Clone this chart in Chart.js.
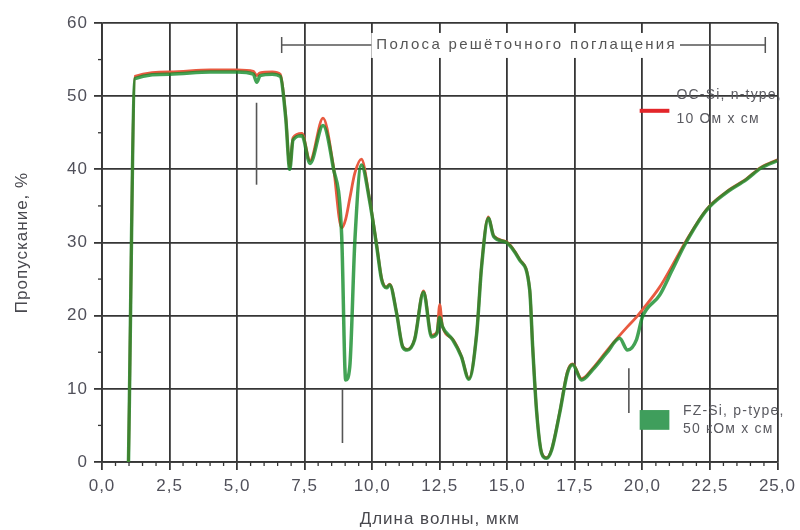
<!DOCTYPE html>
<html>
<head>
<meta charset="utf-8">
<script src="https://cdn.jsdelivr.net/npm/chart.js@4/dist/chart.umd.min.js"></script>
<style>
html,body{margin:0;padding:0;background:#fff;}
#wrap{width:800px;height:530px;}
</style>
</head>
<body>
<div id="wrap"><canvas id="c" width="800" height="530"></canvas></div>
<script>
// ---- data ----
const wavelengths = [0.98,1.22,2.5,4.0,5.0,5.6,5.73,5.85,6.3,6.6,6.8,6.95,7.07,7.4,7.7,8.18,8.55,8.87,9.02,9.17,9.36,9.6,9.9,10.17,10.35,10.53,10.65,10.9,11.13,11.3,11.57,11.9,12.2,12.4,12.5,12.6,12.98,13.3,13.58,13.87,14.05,14.3,14.5,14.97,15.46,15.83,15.94,16.09,16.27,16.45,16.64,16.94,17.23,17.42,17.75,18.16,18.68,19.16,19.45,19.78,20.0,20.64,21.1,21.6,22.37,23.1,23.85,24.4,25.0];
const fzSi = [0,52.4,53.0,53.3,53.3,53.0,51.9,52.8,53.0,52.7,47.0,40.0,44.0,44.6,40.8,46.0,40.4,31.0,11.2,13.0,30.3,40.6,35.8,29.4,24.9,23.8,24.2,20.4,15.7,15.3,16.7,23.2,17.1,17.6,19.8,18.5,16.7,14.4,11.3,17.6,26.7,33.3,30.8,30.0,27.6,23.5,15.7,6.7,1.2,0.5,1.6,6.7,12.2,13.3,11.2,12.6,14.9,16.9,15.3,16.7,19.8,22.8,26.2,29.9,34.4,36.8,38.6,40.2,41.2];
const ocSi = [0,52.7,53.3,53.6,53.6,53.4,52.8,53.2,53.3,53.0,47.3,40.3,44.3,44.9,41.2,47.0,40.8,32.0,33.2,36.0,39.5,41.4,36.0,29.6,25.1,23.9,24.3,20.5,15.8,15.4,16.8,23.4,17.3,17.8,21.5,18.6,16.8,14.5,11.4,17.7,26.9,33.5,30.9,30.1,27.7,23.6,15.8,6.8,1.3,0.6,1.7,6.8,12.4,13.4,11.4,12.8,15.2,17.3,18.5,19.8,20.8,23.9,26.8,30.1,34.5,36.9,38.7,40.3,41.3];

const seriesNames = ['FZ-Si, p-type,', 'OC-Si, n-type,'];
const seriesUnits = ['50 кОм x см', '10 Ом x см'];
const xTitle = 'Длина волны, мкм';
const yTitle = 'Пропускание, %';
const bandLabel = 'Полоса решёточного поглащения';

// annotation values (data units)
const band = {from: 6.65, to: 24.55, y: 57, labelX: 15.68};
const markerX = [5.72, 8.9, 19.5];
const markerTop = [49.1, 10.0, 12.8];
const markerBottom = [37.9, 2.6, 6.7];

const toPts = (xs, ys) => xs.map((x, i) => ({x, y: ys[i]}));

const GRID = '#363636';
const TXT = '#50505a';
const FONT = "'Liberation Sans', Arial, sans-serif";

const decor = {
  id: 'decor',
  beforeDraw(chart) {
    chart.ctx.letterSpacing = '1px';
  },
  beforeDatasetsDraw(chart) {
    const {ctx, scales: {x, y}} = chart;
    ctx.save();
    ctx.letterSpacing = '0px';
    // minor ticks
    ctx.strokeStyle = GRID;
    ctx.lineWidth = 1.3;
    for (let i = 1; i < 50; i++) {
      if (i % 5 === 0) continue;
      const px = x.getPixelForValue(i * 0.5);
      ctx.beginPath(); ctx.moveTo(px, y.bottom); ctx.lineTo(px, y.bottom + 4); ctx.stroke();
    }
    for (let i = 0; i < 6; i++) {
      const py = y.getPixelForValue(5 + i * 10);
      ctx.beginPath(); ctx.moveTo(x.left - 4, py); ctx.lineTo(x.left, py); ctx.stroke();
    }
    // absorption band annotation
    ctx.font = '15px ' + FONT;
    ctx.letterSpacing = '2.3px';
    const tw = ctx.measureText(bandLabel).width;
    const cx = x.getPixelForValue(band.labelX);
    const py = y.getPixelForValue(band.y);
    const bl = cx - tw / 2 - 4, br = cx + tw / 2 + 4;
    ctx.fillStyle = '#fff';
    ctx.fillRect(bl, py - 12, br - bl, 25);
    const x1 = x.getPixelForValue(band.from), x2 = x.getPixelForValue(band.to);
    ctx.strokeStyle = '#555';
    ctx.lineWidth = 1.5;
    ctx.beginPath();
    ctx.moveTo(x1, py); ctx.lineTo(bl, py);
    ctx.moveTo(br, py); ctx.lineTo(x2, py);
    ctx.moveTo(x1, py - 8); ctx.lineTo(x1, py + 8);
    ctx.moveTo(x2, py - 8); ctx.lineTo(x2, py + 8);
    ctx.stroke();
    ctx.fillStyle = '#555';
    ctx.textAlign = 'center';
    ctx.textBaseline = 'middle';
    ctx.fillText(bandLabel, cx + 1, py);
    // vertical marker lines
    ctx.strokeStyle = '#555';
    ctx.lineWidth = 1.6;
    markerX.forEach((mx, i) => {
      const px = x.getPixelForValue(mx);
      ctx.beginPath();
      ctx.moveTo(px, y.getPixelForValue(markerTop[i]));
      ctx.lineTo(px, y.getPixelForValue(markerBottom[i]));
      ctx.stroke();
    });
    ctx.restore();
  },
  afterDraw(chart) {
    const {ctx, scales: {x, y}} = chart;
    ctx.save();
    ctx.letterSpacing = '1.2px';
    // legend: OC-Si (red line)
    ctx.strokeStyle = '#e3262a';
    ctx.lineWidth = 4;
    const lx1 = x.getPixelForValue(19.9), lx2 = x.getPixelForValue(21.0);
    const ly = y.getPixelForValue(48.0);
    ctx.beginPath(); ctx.moveTo(lx1, ly); ctx.lineTo(lx2, ly); ctx.stroke();
    ctx.fillStyle = '#5a5a60';
    ctx.font = '14px ' + FONT;
    ctx.textAlign = 'left';
    ctx.textBaseline = 'middle';
    const tx1 = x.getPixelForValue(21.26);
    ctx.fillText(seriesNames[1], tx1, y.getPixelForValue(50.2));
    ctx.fillText(seriesUnits[1], tx1, y.getPixelForValue(46.8));
    // legend: FZ-Si (green box)
    ctx.fillStyle = '#3f9e5c';
    const gy1 = y.getPixelForValue(7.1), gy2 = y.getPixelForValue(4.4);
    ctx.fillRect(lx1, gy1, lx2 - lx1, gy2 - gy1);
    ctx.fillStyle = '#5a5a60';
    const tx2 = x.getPixelForValue(21.5);
    ctx.fillText(seriesNames[0], tx2, y.getPixelForValue(7.0));
    ctx.fillText(seriesUnits[0], tx2, y.getPixelForValue(4.5));
    ctx.restore();
    ctx.letterSpacing = '0px';
  }
};

new Chart(document.getElementById('c'), {
  type: 'line',
  data: {
    datasets: [
      {
        label: seriesNames[0],
        data: toPts(wavelengths, fzSi),
        borderColor: 'rgba(20,140,42,0.8)',
        borderWidth: 3.5,
        pointRadius: 0,
        cubicInterpolationMode: 'monotone',
        order: 0
      },
      {
        label: seriesNames[1],
        data: toPts(wavelengths, ocSi),
        borderColor: '#e85a40',
        borderWidth: 2.8,
        pointRadius: 0,
        cubicInterpolationMode: 'monotone',
        order: 1
      }
    ]
  },
  options: {
    responsive: false,
    animation: false,
    devicePixelRatio: 1,
    layout: {padding: {left: 0, top: 23, right: 22, bottom: 0}},
    plugins: {legend: {display: false}, tooltip: {enabled: false}},
    scales: {
      x: {
        type: 'linear', min: 0, max: 25,
        ticks: {
          stepSize: 2.5, autoSkip: false, maxRotation: 0, padding: 6,
          color: TXT, font: {family: FONT, size: 17},
          callback: v => v.toFixed(1).replace('.', ',')
        },
        grid: {color: GRID, lineWidth: 1.8, tickLength: 8, tickColor: GRID},
        border: {color: GRID, width: 1.8},
        title: {display: true, text: xTitle, color: '#48484e', font: {family: FONT, size: 17}, padding: {top: 0, bottom: 0}},
        afterFit: s => { s.height = 68; }
      },
      y: {
        type: 'linear', min: 0, max: 60,
        ticks: {stepSize: 10, padding: 6, color: TXT, font: {family: FONT, size: 17}},
        grid: {color: GRID, lineWidth: 1.8, tickLength: 8, tickColor: GRID},
        border: {color: GRID, width: 1.8},
        title: {display: true, text: yTitle, color: '#48484e', font: {family: FONT, size: 17}, padding: {top: 12, bottom: 0}},
        afterFit: s => { s.width = 102; }
      }
    }
  },
  plugins: [decor]
});
</script>
</body>
</html>
